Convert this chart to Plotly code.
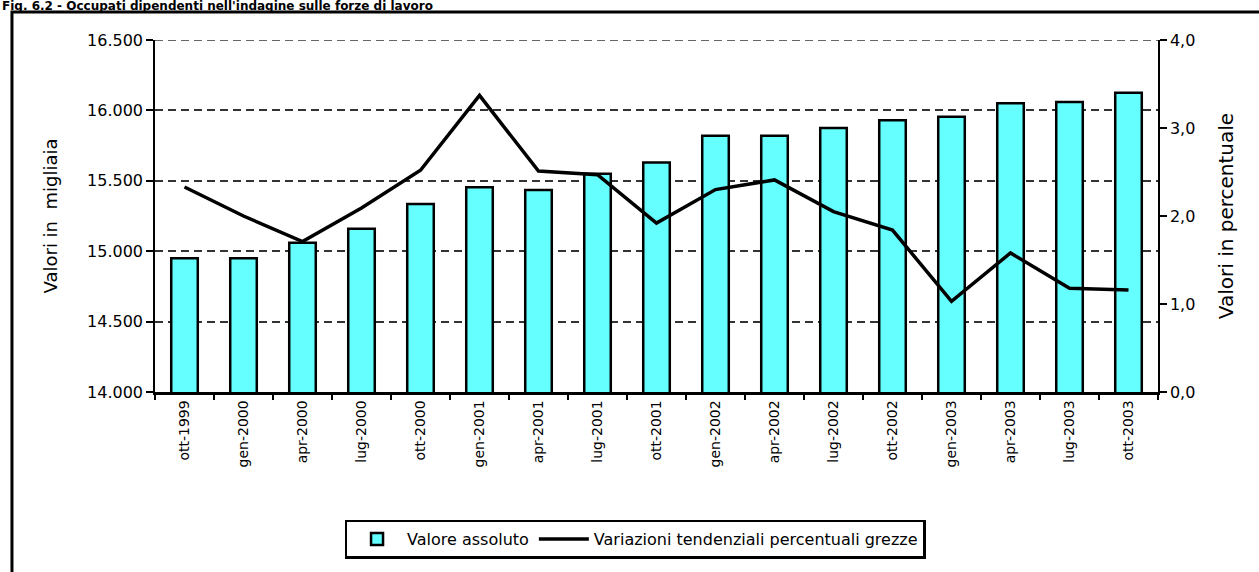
import plotly.graph_objects as go

# trimestri
periods = ['ott-1999', 'gen-2000', 'apr-2000', 'lug-2000', 'ott-2000', 'gen-2001', 'apr-2001',
           'lug-2001', 'ott-2001', 'gen-2002', 'apr-2002', 'lug-2002', 'ott-2002', 'gen-2003',
           'apr-2003', 'lug-2003', 'ott-2003']
# valori assoluti (migliaia)
absolute = [14950, 14950, 15060, 15160, 15335, 15455, 15435, 15550, 15630, 15820, 15820,
            15875, 15930, 15955, 16050, 16060, 16125]
# variazioni tendenziali (%)
pct_change = [2.33, 2.0, 1.71, 2.09, 2.52, 3.37, 2.51, 2.47, 1.92, 2.30, 2.41, 2.05, 1.84,
              1.03, 1.58, 1.18, 1.16]

font_name = 'DejaVu Sans, Arial, sans-serif'

fig = go.Figure()
fig.add_trace(go.Bar(x=periods, y=absolute, name='Valore assoluto',
                     marker=dict(color='#66FFFF', line=dict(color='black', width=2.5))))
fig.add_trace(go.Scatter(x=periods, y=pct_change, name='Variazioni tendenziali percentuali grezze',
                         mode='lines', line=dict(color='black', width=3.5), yaxis='y2'))

fig.update_layout(
    width=1259, height=572,
    margin=dict(l=155, r=101, t=40, b=180),
    paper_bgcolor='white', plot_bgcolor='white',
    separators=',.',
    font=dict(family=font_name, size=14, color='black'),
    bargap=0.55,
    showlegend=True,
    legend=dict(orientation='h', x=0.4786, y=-0.418, xanchor='center', yanchor='middle',
                bordercolor='black', borderwidth=2.5, font=dict(size=16), itemwidth=50,
                tracegroupgap=0),
    xaxis=dict(type='category', tickangle=-90, ticks='outside', ticklen=5, tickwidth=1.5,
               tickcolor='black', tickson='boundaries', showline=True, linecolor='black',
               linewidth=2.5, showgrid=False, tickfont=dict(size=14)),
    yaxis=dict(range=[14000, 16500], dtick=500, tickformat=',.0f', ticks='outside',
               ticklen=7, tickwidth=1.5, tickcolor='black', showline=True, linecolor='black',
               linewidth=1.5, showgrid=True, gridcolor='#333333', gridwidth=1.5,
               griddash='8px,5px', zeroline=False, tickfont=dict(size=16),
               title=dict(text='Valori in  migliaia', font=dict(size=18), standoff=25)),
    yaxis2=dict(range=[0, 4], dtick=1, tickformat='.1f', overlaying='y', side='right',
                ticks='outside', ticklen=7, tickwidth=1.5, tickcolor='black', showline=True,
                linecolor='black', linewidth=1.5, showgrid=False, zeroline=False,
                tickfont=dict(size=16),
                title=dict(text='Valori in percentuale', font=dict(size=20), standoff=25)),
)

# griglia in cima (16.500)
fig.add_shape(type='line', xref='paper', yref='y', x0=0, x1=1, y0=16500, y1=16500,
              line=dict(color='#333333', width=1.5, dash='8px,5px'))

# cornice esterna
fig.add_shape(type='rect', xref='paper', yref='paper', x0=-0.1426, y0=-0.62, x1=1.12, y1=1.0795,
              line=dict(color='black', width=3), fillcolor='rgba(0,0,0,0)', layer='below')

# titolo
fig.add_annotation(text="<b>Fig. 6.2 - Occupati dipendenti nell'indagine sulle forze di lavoro</b>",
                   xref='paper', yref='paper', x=-0.1545, y=1.098, xanchor='left', yanchor='middle',
                   showarrow=False, font=dict(size=12, family=font_name))

fig.write_html('out.html', config={'displayModeBar': False},
               post_script="document.body.style.margin='0';")
